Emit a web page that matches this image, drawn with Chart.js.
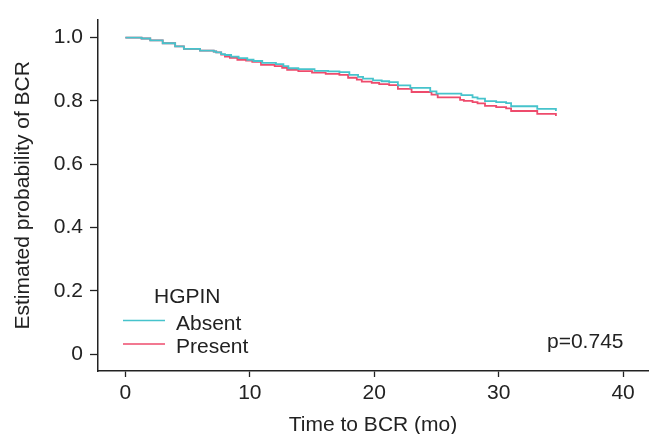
<!DOCTYPE html>
<html>
<head>
<meta charset="utf-8">
<script src="https://cdn.jsdelivr.net/npm/chart.js@4.4.1/dist/chart.umd.min.js"></script>
<style>
  html, body { margin: 0; padding: 0; background: #ffffff; }
  #wrap { width: 650px; height: 434px; }
</style>
</head>
<body>
<div id="wrap"><canvas id="c" width="650" height="434"></canvas></div>
<script>
// ---- data ----
const absentTimes = [0, 1.3, 2.0, 3.0, 4.0, 4.7, 6.0, 7.1, 7.3, 7.7, 8.0, 8.5, 9.1, 9.8, 10.3, 11.0, 12.1, 12.7, 13.1, 13.9, 15.2, 16.3, 17.2, 18.0, 18.7, 19.1, 19.9, 20.6, 21.2, 21.9, 22.9, 24.5, 25.0, 27.0, 27.9, 28.3, 28.9, 29.8, 30.6, 31.0, 33.1, 34.6];
const absentSurv  = [1.0, 0.997, 0.991, 0.982, 0.972, 0.964, 0.959, 0.956, 0.953, 0.948, 0.945, 0.940, 0.935, 0.930, 0.926, 0.920, 0.916, 0.910, 0.903, 0.900, 0.895, 0.893, 0.891, 0.882, 0.876, 0.870, 0.865, 0.862, 0.859, 0.849, 0.841, 0.830, 0.823, 0.818, 0.811, 0.807, 0.799, 0.796, 0.793, 0.783, 0.775, 0.768];
const presentTimes = [0, 1.3, 2.0, 3.0, 4.0, 4.7, 6.0, 7.1, 7.3, 7.7, 8.0, 8.4, 9.0, 9.7, 10.2, 10.9, 12.0, 12.6, 13.0, 13.9, 15.0, 16.1, 17.2, 17.9, 18.6, 19.0, 19.8, 20.4, 21.2, 21.9, 23.0, 24.6, 25.1, 26.9, 27.2, 27.9, 28.3, 28.9, 29.8, 30.6, 31.0, 33.1, 34.6];
const presentSurv  = [1.0, 0.997, 0.991, 0.982, 0.972, 0.964, 0.959, 0.956, 0.953, 0.946, 0.940, 0.936, 0.930, 0.927, 0.923, 0.914, 0.910, 0.904, 0.898, 0.894, 0.889, 0.885, 0.882, 0.873, 0.867, 0.861, 0.857, 0.853, 0.850, 0.838, 0.828, 0.820, 0.811, 0.803, 0.800, 0.796, 0.792, 0.784, 0.780, 0.776, 0.768, 0.759, 0.752];
const seriesNames = ['Absent', 'Present'];
const legendTitle = 'HGPIN';
const pValueText = 'p=0.745';
const xTicks = [0, 10, 20, 30, 40];
const yTicks = [0, 0.2, 0.4, 0.6, 0.8, 1.0];
const yTickLabels = ['0', '0.2', '0.4', '0.6', '0.8', '1.0'];
const xTitle = 'Time to BCR (mo)';
const yTitle = 'Estimated probability of BCR';

// ---- styles ----
const colors = ['#46c3cc', '#ee4b6c'];
const FONT = 'Liberation Sans, Arial, Helvetica, sans-serif';
const AXIS = '#222222';
const FS = 21;

function toPoints(ts, ss) { return ts.map((t, i) => ({ x: t, y: ss[i] })); }

const overlay = {
  id: 'overlay',
  afterDraw(chart) {
    const ctx = chart.ctx;
    ctx.save();
    ctx.fillStyle = '#222222';
    ctx.font = FS + 'px ' + FONT;
    ctx.textBaseline = 'alphabetic';
    ctx.textAlign = 'left';
    ctx.fillText(legendTitle, 154, 302.5);
    const rows = [329.5, 353];
    seriesNames.forEach((n, i) => {
      ctx.strokeStyle = colors[i];
      ctx.lineWidth = 1.5;
      ctx.beginPath();
      ctx.moveTo(123, rows[i] - 9);
      ctx.lineTo(165, rows[i] - 9);
      ctx.stroke();
      ctx.fillText(n, 176, rows[i]);
    });
    ctx.fillText(pValueText, 547, 348);
    ctx.restore();
  }
};

new Chart(document.getElementById('c'), {
  type: 'line',
  data: {
    datasets: [
      { label: seriesNames[0], data: toPoints(absentTimes, absentSurv), borderColor: colors[0], borderWidth: 1.8, stepped: true, pointRadius: 0, fill: false },
      { label: seriesNames[1], data: toPoints(presentTimes, presentSurv), borderColor: colors[1], borderWidth: 1.8, stepped: true, pointRadius: 0, fill: false }
    ]
  },
  options: {
    responsive: false,
    animation: false,
    devicePixelRatio: 1,
    layout: { padding: { top: 19, right: 2, left: 0, bottom: 0 } },
    plugins: { legend: { display: false }, tooltip: { enabled: false } },
    scales: {
      x: {
        type: 'linear',
        min: -2.2, max: 42,
        afterBuildTicks: s => { s.ticks = xTicks.map(v => ({ value: v })); },
        afterFit: s => { s.height = 63; },
        ticks: { color: '#222222', font: { family: FONT, size: FS }, padding: 4, maxRotation: 0, autoSkip: false,
                 callback: v => String(v) },
        grid: { drawOnChartArea: false, drawTicks: true, tickLength: 6, tickColor: AXIS, tickWidth: 1.3 },
        border: { display: true, color: AXIS, width: 1.5 },
        title: { display: true, text: xTitle, color: '#222222', font: { family: FONT, size: FS, lineHeight: 0.8 }, padding: { top: 0, bottom: 0 } }
      },
      y: {
        type: 'linear',
        min: -0.0536, max: 1.0568,
        afterBuildTicks: s => { s.ticks = yTicks.map(v => ({ value: v })); },
        afterFit: s => { s.width = 98; },
        ticks: { color: '#222222', font: { family: FONT, size: FS }, padding: 7, autoSkip: false,
                 callback: v => { const i = yTicks.findIndex(t => Math.abs(t - v) < 1e-9); return i >= 0 ? yTickLabels[i] : ''; } },
        grid: { drawOnChartArea: false, drawTicks: true, tickLength: 8, tickColor: AXIS, tickWidth: 1.3 },
        border: { display: true, color: AXIS, width: 1.5 },
        title: { display: true, text: yTitle, color: '#222222', font: { family: FONT, size: FS, lineHeight: 1.2 }, padding: { top: 11, bottom: 0 } }
      }
    }
  },
  plugins: [overlay]
});
</script>
</body>
</html>
